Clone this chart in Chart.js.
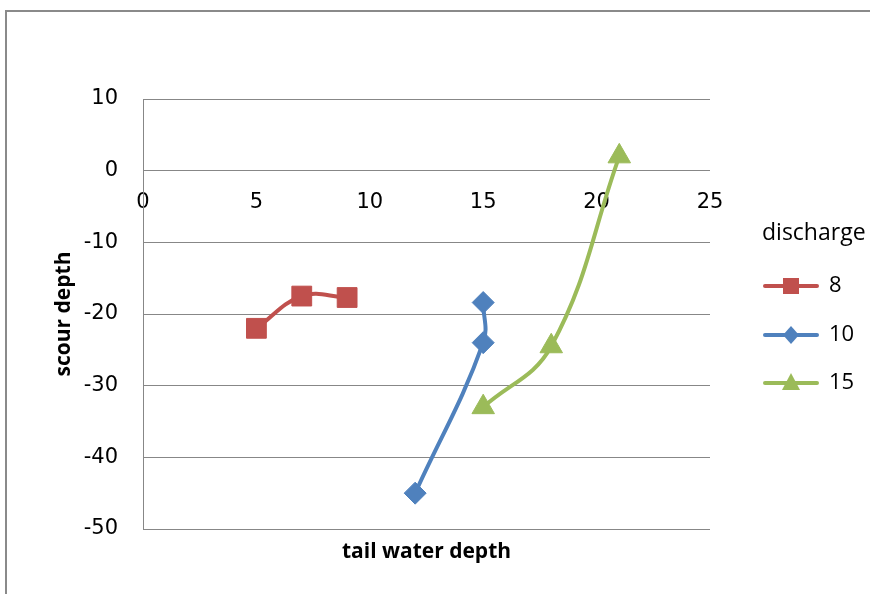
<!DOCTYPE html>
<html>
<head>
<meta charset="utf-8">
<script src="https://cdn.jsdelivr.net/npm/chart.js"></script>
<style>
  html, body { margin: 0; padding: 0; background: #fff; }
  #wrap { position: relative; width: 870px; height: 594px; overflow: hidden; }
  #frame { position: absolute; left: 5px; top: 10px; width: 1000px; height: 800px;
           border: 2px solid #8a8a8a; pointer-events: none; }
  canvas { position: absolute; left: 0; top: 0; }
</style>
</head>
<body>
<div id="wrap">
  <canvas id="myChart" width="870" height="594"></canvas>
  <div id="frame"></div>
</div>
<script>
// series: discharge 8, 10, 15
const seriesNames = ["8", "10", "15"];
const tailWater8 = [5, 7, 9];
const scour8 = [-22, -17.5, -17.7];
const tailWater10 = [12, 15, 15];
const scour10 = [-45, -24, -18.4];
const tailWater15 = [15, 18, 21];
const scour15 = [-33, -24.5, 2];

// axis ticks
const xTicks = [0, 5, 10, 15, 20, 25];
const yTicks = [-50, -40, -30, -20, -10, 0, 10];

const colors = ["#C0504D", "#4F81BD", "#9BBB59"];
const markers = ["rect", "rectRot", "triangle"];
const markerSize = [14, 11, 13];

const toPoints = (xs, ys) => xs.map((x, i) => ({ x: x, y: ys[i] }));
const allX = [tailWater8, tailWater10, tailWater15];
const allY = [scour8, scour10, scour15];

const tickFont = { family: "DejaVu Sans", size: 21 };
const titleFont = { family: "Open Sans", size: 21, weight: "bold" };

// legend + x title drawn by hand (Excel style: line through marker)
const excelLegend = {
    id: "excelLegend",
    afterDraw(chart) {
        const c = chart.ctx;
        c.save();
        c.fillStyle = "#000";
        c.textBaseline = "middle";
        c.textAlign = "left";
        c.font = "23px 'Open Sans'";
        c.fillText("discharge", 762, 233);
        const rowY = [286, 335, 383];
        seriesNames.forEach((name, i) => {
            const y = rowY[i];
            c.strokeStyle = colors[i];
            c.lineWidth = 4;
            c.lineCap = "round";
            c.beginPath();
            c.moveTo(765, y);
            c.lineTo(817, y);
            c.stroke();
            c.fillStyle = colors[i];
            c.beginPath();
            if (markers[i] === "rect") {
                c.rect(783, y - 8, 16, 16);
            } else if (markers[i] === "rectRot") {
                c.moveTo(791, y - 9); c.lineTo(799, y); c.lineTo(791, y + 9); c.lineTo(783, y);
                c.closePath();
            } else {
                c.moveTo(791, y - 10); c.lineTo(800, y + 7); c.lineTo(782, y + 7);
                c.closePath();
            }
            c.fill();
            c.fillStyle = "#000";
            c.font = "22px 'Open Sans'";
            c.fillText(name, 829, y);
        });
        // x axis title (axis sits at y = 0, so title is placed at the bottom)
        const area = chart.chartArea;
        c.font = "bold 21px 'Open Sans'";
        c.textAlign = "center";
        c.fillText("tail water depth", (area.left + area.right) / 2, 552);
        c.restore();
    }
};

const ctx = document.getElementById("myChart").getContext("2d");
const myChart = new Chart(ctx, {
    type: "scatter",
    data: {
        datasets: seriesNames.map((name, i) => ({
            label: name,
            data: toPoints(allX[i], allY[i]),
            showLine: true,
            tension: 0.4,
            borderColor: colors[i],
            backgroundColor: colors[i],
            borderWidth: 4,
            pointStyle: markers[i],
            pointRadius: markerSize[i],
            pointHoverRadius: markerSize[i],
            pointBorderWidth: 1,
            pointBorderColor: colors[i],
            pointBackgroundColor: colors[i],
            order: 3 - i,
        })),
    },
    options: {
        animation: false,
        responsive: false,
        layout: {
            padding: { left: 51, right: 160, top: 99, bottom: 65 },
        },
        plugins: {
            legend: { display: false },
            tooltip: { enabled: false },
        },
        scales: {
            x: {
                type: "linear",
                position: { y: 0 },
                min: 0,
                max: 25,
                afterBuildTicks: (s) => { s.ticks = xTicks.map(v => ({ value: v })); },
                afterFit: (s) => { s.paddingLeft = 0; s.paddingRight = 0; },
                grid: { display: false, drawTicks: false },
                border: { display: false },
                ticks: { font: tickFont, color: "#000", padding: 19, maxRotation: 0 },
            },
            y: {
                type: "linear",
                min: -50,
                max: 10,
                afterBuildTicks: (s) => { s.ticks = yTicks.map(v => ({ value: v })); },
                afterFit: (s) => { s.width = 92; s.paddingTop = 0; s.paddingBottom = 0; },
                grid: { color: "#878787", lineWidth: 1, drawTicks: false },
                border: { display: true, color: "#878787", width: 1 },
                ticks: { font: tickFont, color: "#000", padding: 25 },
                title: {
                    display: true,
                    text: "scour depth",
                    font: titleFont,
                    color: "#000",
                    padding: 0,
                },
            },
        },
    },
    plugins: [excelLegend],
});
</script>
</body>
</html>
